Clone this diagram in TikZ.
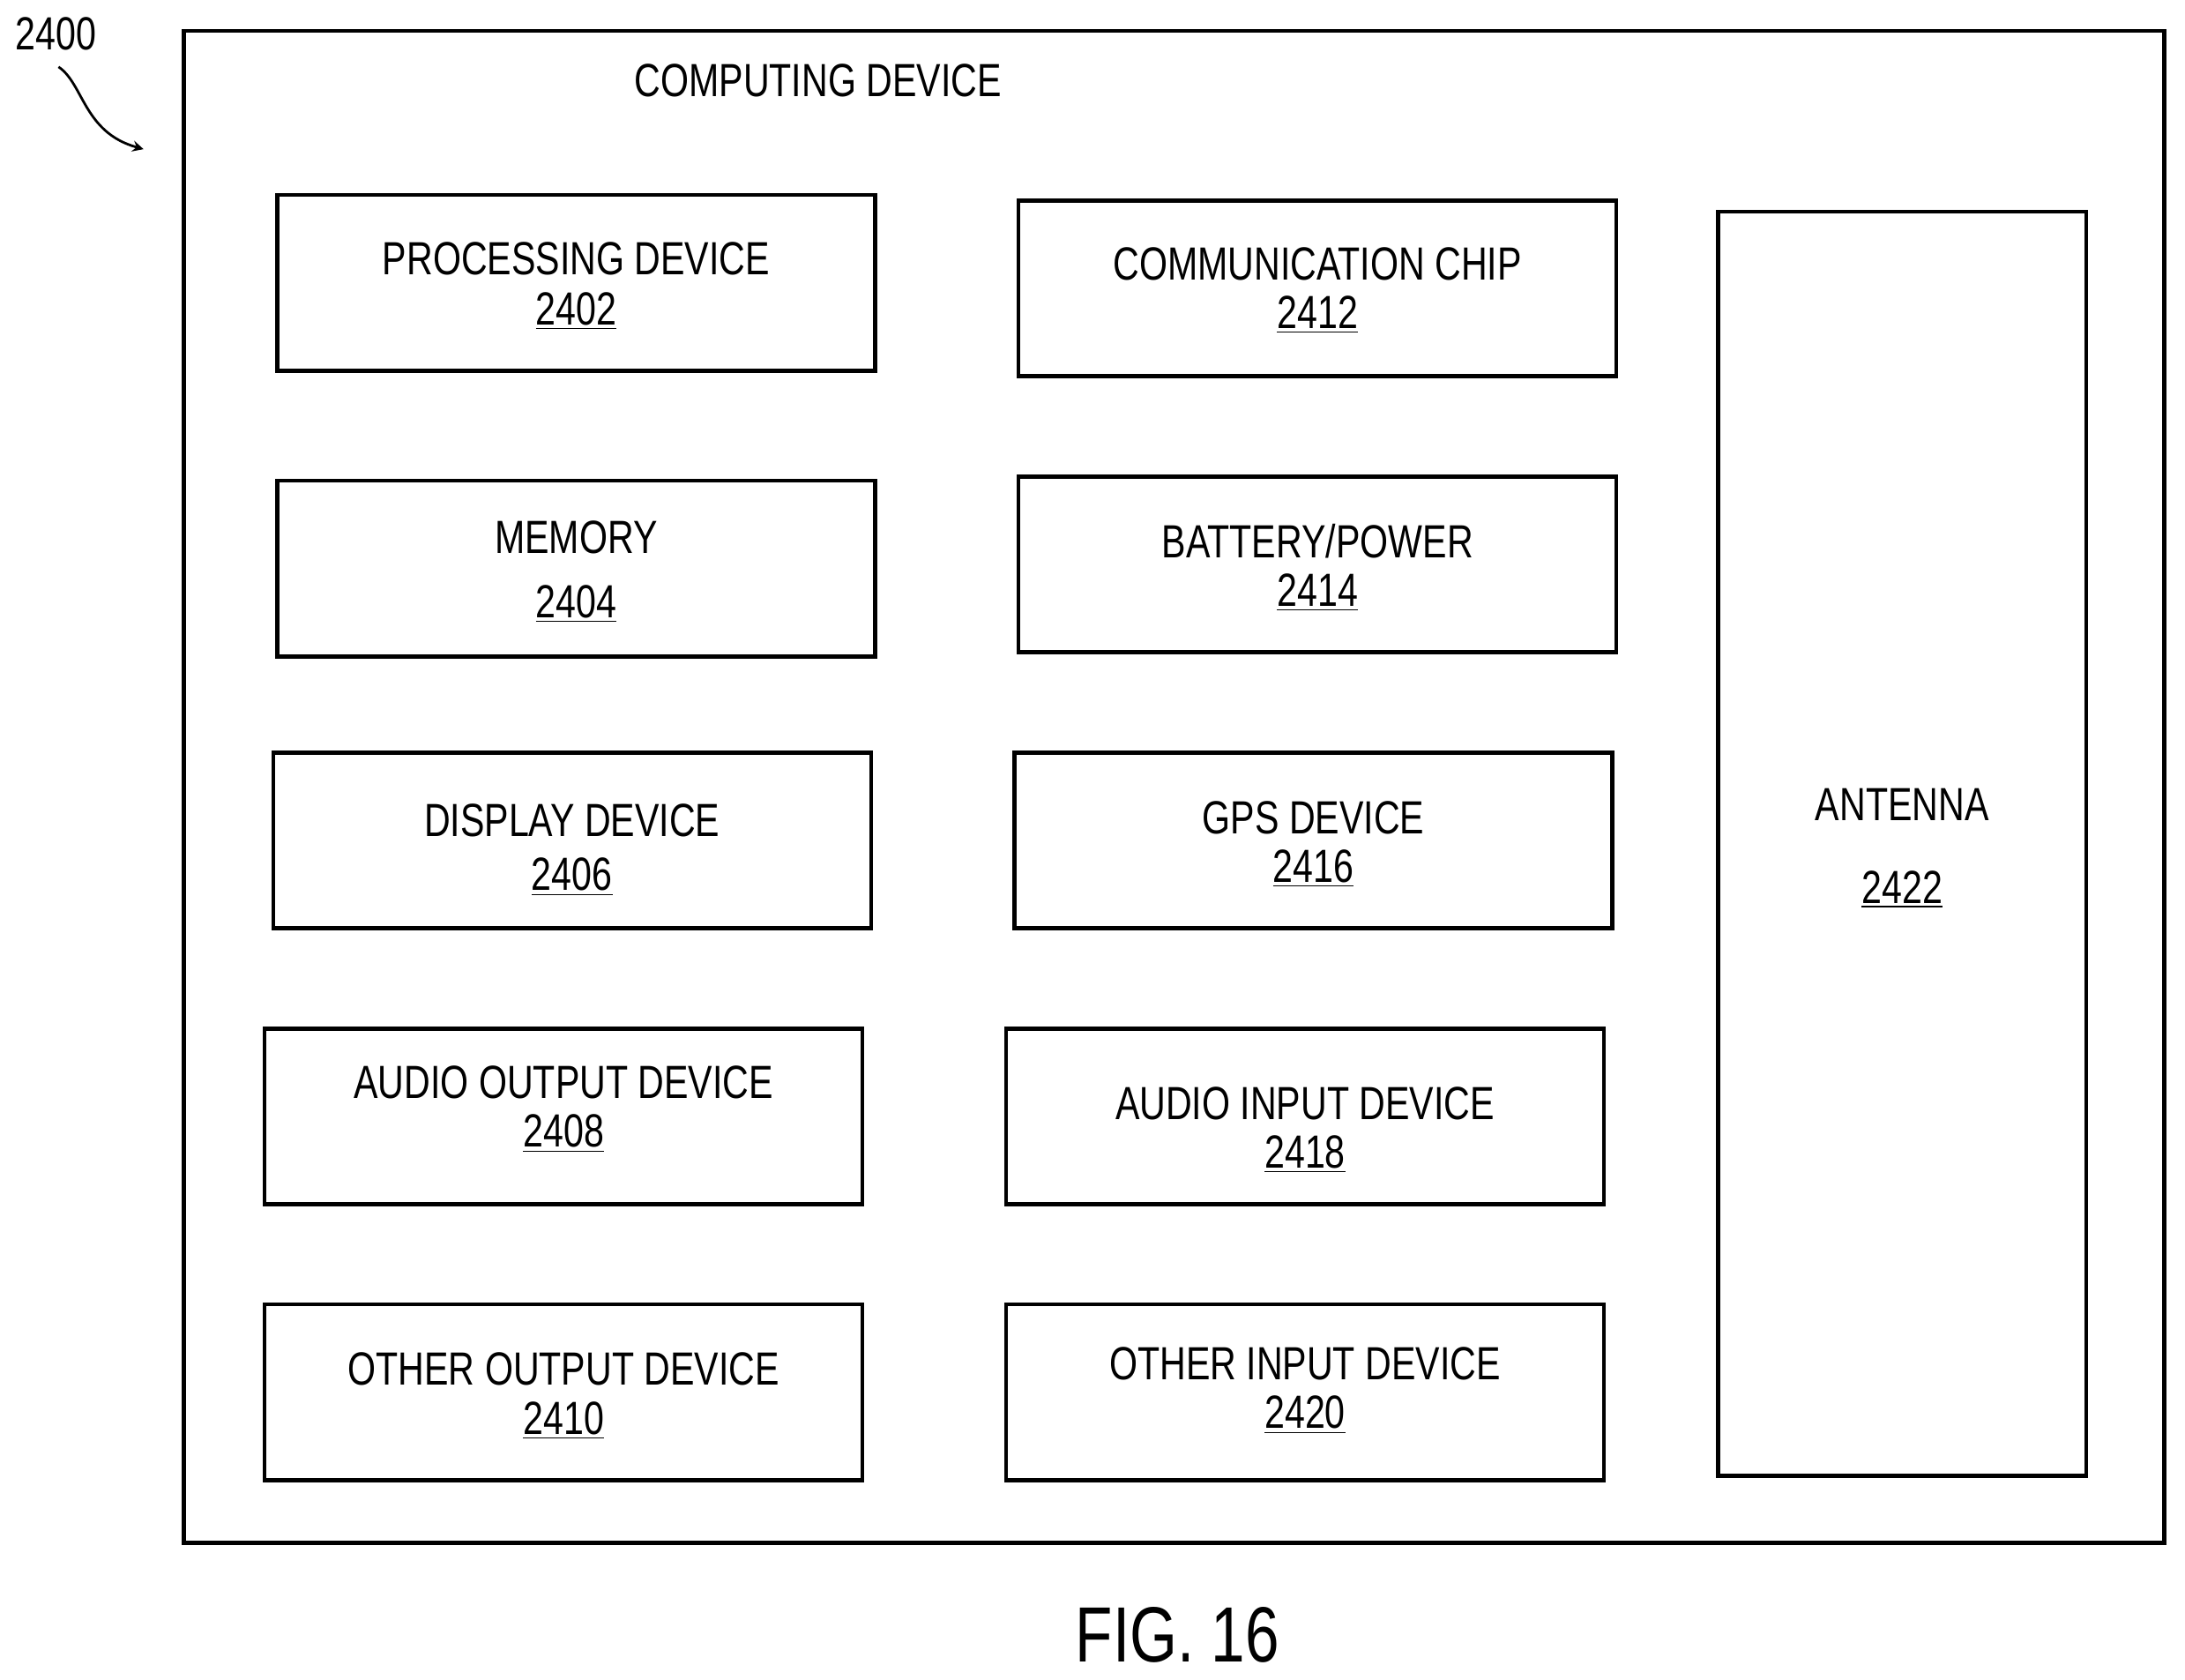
\documentclass[tikz,border=0pt]{standalone}
\usepackage{fontspec}
\setmainfont{Liberation Sans}[FakeStretch=0.78]
\begin{document}
\begin{tikzpicture}[x=0.02cm,y=-0.02cm,
  box/.style={draw,line width=1.6pt,inner sep=0},
  lbl/.style={font=\fontsize{19}{22}\selectfont,inner sep=0,anchor=base}]
\useasboundingbox (0,0) rectangle (1568,1205);
\newcommand{\bx}[9]{%
  \node[box,minimum width={(#4-#2)*0.02cm},minimum height={(#5-#3)*0.02cm}] (#1) at ({(#2+#4)/2},{(#3+#5)/2}) {};
  \node[lbl] (#1t) at ({(#2+#4)/2},{#7+12}) {#6};
  \node[lbl] (#1n) at ({(#2+#4)/2},{#9+12}) {\underline{#8}};}
\node[box,minimum width={1421*0.02cm},minimum height={1085*0.02cm}] (outer) at (842.5,564.5) {};
\node[lbl] (title) at (587,69) {COMPUTING DEVICE};
\bx{p}{199}{140}{628}{266}{PROCESSING DEVICE}{185}{2402}{221}
\bx{c}{731}{144}{1160}{270}{COMMUNICATION CHIP}{189}{2412}{224}
\bx{m}{199}{345}{628}{471}{MEMORY}{385}{2404}{431}
\bx{b}{731}{342}{1160}{468}{BATTERY/POWER}{388}{2414}{423}
\bx{d}{196}{540}{625}{666}{DISPLAY DEVICE}{588}{2406}{627}
\bx{g}{728}{540}{1157}{666}{GPS DEVICE}{586}{2416}{621}
\bx{ao}{190}{738}{619}{864}{AUDIO OUTPUT DEVICE}{776}{2408}{811}
\bx{ai}{722}{738}{1151}{864}{AUDIO INPUT DEVICE}{791}{2418}{826}
\bx{oo}{190}{936}{619}{1062}{OTHER OUTPUT DEVICE}{982}{2410}{1017}
\bx{oi}{722}{936}{1151}{1062}{OTHER INPUT DEVICE}{978}{2420}{1013}
\bx{an}{1233}{152}{1497}{1059}{ANTENNA}{577}{2422}{636}
\node[lbl] (ref) at (40,36) {2400};
\coordinate (arrowend) at (103,107);
\draw[line width=1pt,-stealth] (42,48) .. controls (60,60) and (60,95) .. (arrowend);
\node[font=\fontsize{32}{36}\selectfont,inner sep=0] (fig) at (845,1173) {FIG. 16};
\end{tikzpicture}
\end{document}
